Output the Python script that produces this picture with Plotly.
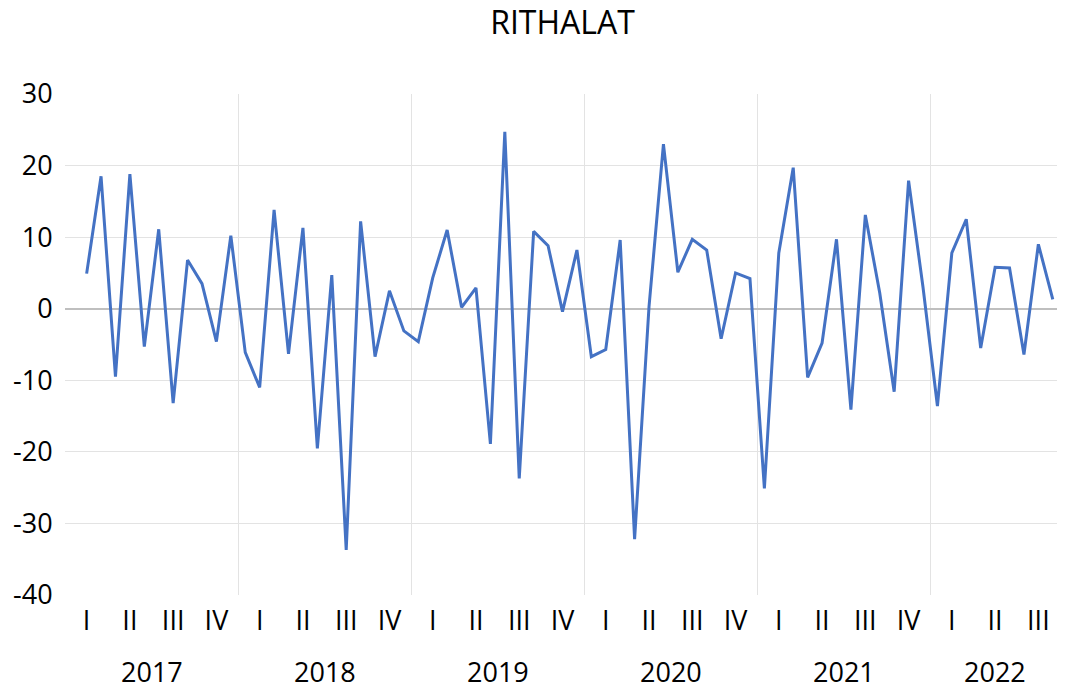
import plotly.graph_objects as go

# Data: monthly values, Feb 2017 .. Sep 2022
values = [
    4.9, 18.5, -9.5, 18.8, -5.3, 11.1, -13.2, 6.8, 3.5, -4.6, 10.2,          # 2017 (Feb-Dec)
    -6.1, -11.0, 13.8, -6.3, 11.3, -19.5, 4.7, -33.7, 12.2, -6.7, 2.5, -3.1,  # 2018
    -4.6, 4.3, 11.0, 0.2, 2.9, -18.9, 24.7, -23.7, 10.8, 8.8, -0.4, 8.2,     # 2019
    -6.7, -5.7, 9.6, -32.2, 0.3, 23.0, 5.1, 9.7, 8.2, -4.2, 5.0, 4.2,        # 2020
    -25.1, 7.8, 19.7, -9.6, -4.8, 9.7, -14.1, 13.1, 2.2, -11.6, 17.9, 3.0,   # 2021
    -13.6, 7.8, 12.5, -5.5, 5.8, 5.7, -6.4, 9.0, 1.3,                        # 2022 (Jan-Sep)
]
first_month = 1  # month index (0 = Jan 2017) of first value
years = ["2017", "2018", "2019", "2020", "2021", "2022"]
quarter_labels = ["I", "II", "III", "IV"]
n_quarters_last_year = 3
y_ticks = [-40, -30, -20, -10, 0, 10, 20, 30]
y_ticktext = ["-40", "-30", "-20", "-10", "0", "10", "20", "30"]

month_idx = list(range(first_month, first_month + len(values)))
n_months = 12 * (len(years) - 1) + 3 * n_quarters_last_year

# quarter tick positions (middle month of each quarter)
q_vals, q_text = [], []
for yi in range(len(years)):
    nq = 4 if yi < len(years) - 1 else n_quarters_last_year
    for q in range(nq):
        q_vals.append(12 * yi + 3 * q + 1)
        q_text.append(quarter_labels[q])

year_bounds = [12 * yi - 0.5 for yi in range(1, len(years))]
year_centers = []
for yi in range(len(years)):
    nm = 12 if yi < len(years) - 1 else 3 * n_quarters_last_year
    year_centers.append(12 * yi + (nm - 1) / 2)

FONT = "Open Sans"
FS = 27

fig = go.Figure()
fig.add_trace(go.Scatter(
    x=month_idx, y=values, mode="lines",
    line=dict(color="#4472C4", width=3),
    showlegend=False, hoverinfo="x+y",
))

for xc, yr in zip(year_centers, years):
    fig.add_annotation(x=xc, y=0, xref="x", yref="paper", yanchor="middle",
                       yshift=-76, text=yr, showarrow=False,
                       font=dict(family=FONT, size=FS, color="#000000"))

# page body has an 8px default margin: figure sized so it fits the window exactly
fig.update_layout(
    width=1057, height=679,
    margin=dict(l=57, r=5, t=86, b=92, autoexpand=False),
    paper_bgcolor="white", plot_bgcolor="white",
    title=dict(text="RITHALAT", x=0.5, xref="paper", y=0.978, yanchor="middle",
               font=dict(family=FONT, size=32, color="#000000")),
    xaxis=dict(
        range=[-0.5, n_months - 0.5], automargin=False,
        tickmode="array", tickvals=q_vals, ticktext=q_text,
        showgrid=False, zeroline=False, showline=False,
        ticks="outside", ticklen=2, tickcolor="rgba(0,0,0,0)",
        tickfont=dict(family=FONT, size=FS, color="#000000"),
        minor=dict(tickmode="array", tickvals=year_bounds, showgrid=True,
                   gridcolor="#e3e3e3", gridwidth=1, ticks=""),
    ),
    yaxis=dict(
        range=[-40, 30], automargin=False,
        tickmode="array", tickvals=y_ticks, ticktext=y_ticktext,
        showgrid=True, gridcolor="#e3e3e3", gridwidth=1,
        zeroline=True, zerolinecolor="#bfbfbf", zerolinewidth=1.5,
        showline=False, ticks="outside", ticklen=6, tickcolor="rgba(0,0,0,0)",
        tickfont=dict(family=FONT, size=FS, color="#000000"),
    ),
)

fig.write_html("out.html")
